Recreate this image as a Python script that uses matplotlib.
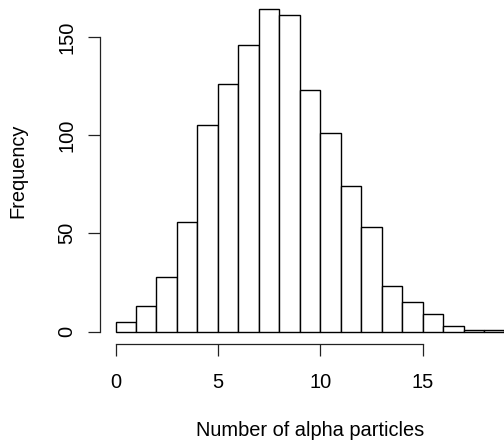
import matplotlib
matplotlib.use("Agg")
import matplotlib.pyplot as plt
import numpy as np

bin_edges = list(range(0, 20))
counts = [5, 13, 28, 56, 105, 126, 146, 164, 161, 123, 101, 74, 53, 23, 15, 9, 3, 1, 1]
x_ticks = [0, 5, 10, 15]
y_ticks = [0, 50, 100, 150]
x_label = "Number of alpha particles"
y_label = "Frequency"

plt.rcParams['font.family'] = ['Liberation Sans', 'DejaVu Sans']
DPI = 100
W, H = 504, 440
fig = plt.figure(figsize=(W / DPI, H / DPI), dpi=DPI)

# axes in pixel coordinates (extends past right edge like the reference)
left_px, right_px = 100, 520
top_px, bottom_px = -3.5, 344.4
ax = fig.add_axes([left_px / W, (H - bottom_px) / H,
                   (right_px - left_px) / W, (bottom_px - top_px) / H])

lefts = np.array(bin_edges[:-1])
ax.bar(lefts, counts, width=1.0, align='edge', facecolor='white',
       edgecolor='black', linewidth=1.0)

ax.set_xlim(-0.76, 19.76)
ax.set_ylim(-6.56, 170.56)

for s in ['top', 'right']:
    ax.spines[s].set_visible(False)
ax.spines['left'].set_bounds(0, 150)
ax.spines['bottom'].set_bounds(0, 15)
for s in ['left', 'bottom']:
    ax.spines[s].set_linewidth(0.9)
    ax.spines[s].set_color('#222222')

px = 72 / DPI
fs = 20 * px
ax.set_xticks(x_ticks)
ax.set_xticklabels([str(v) for v in x_ticks])
ax.set_yticks(y_ticks)
ax.set_yticklabels([str(v) for v in y_ticks], rotation=90, va='center')
ax.tick_params(axis='both', direction='out', length=12 * px,
               width=0.9, color='#222222', labelsize=fs)
ax.tick_params(axis='x', pad=17 * px)
ax.tick_params(axis='y', pad=11.5 * px)

fig.text(17.5 / W, 1 - 170.5 / H, y_label, rotation=90, ha='center', va='center',
         fontsize=fs)
fig.text(310 / W, 1 - 430 / H, x_label, ha='center', va='center', fontsize=fs)

fig.savefig("out.png", dpi=DPI, facecolor='white')
